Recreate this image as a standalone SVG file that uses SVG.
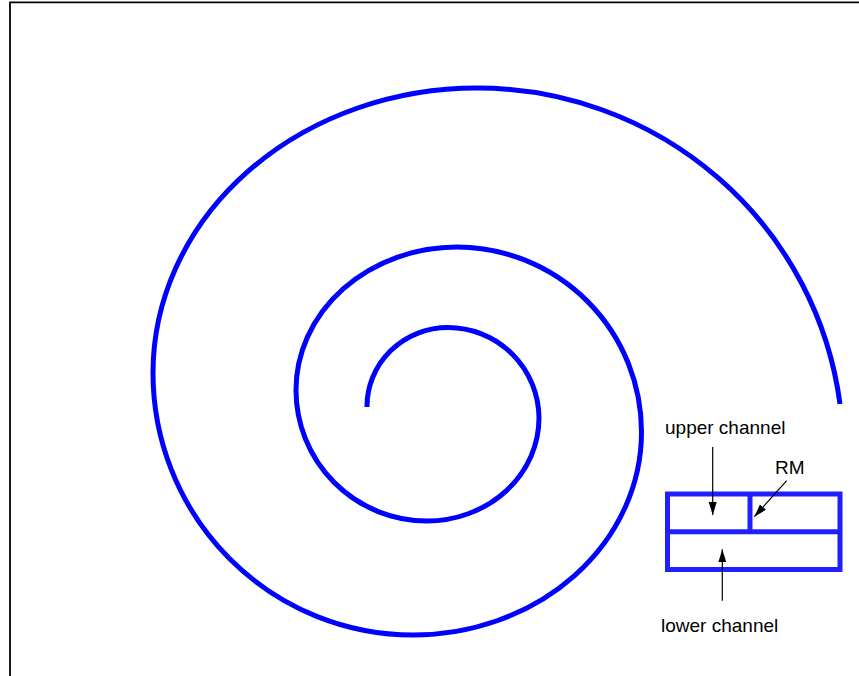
<svg xmlns="http://www.w3.org/2000/svg" width="859" height="676" viewBox="0 0 859 676">
  <style>
    .spiral { fill: none; stroke: #0000ff; stroke-width: 5; }
    .box { fill: none; stroke: #1f1fff; stroke-width: 5; }
    .lbl { font-family: "Liberation Sans", Arial, sans-serif; font-size: 19px; fill: #000; }
    .conn { stroke: #000; stroke-width: 1.2; fill: none; marker-end: url(#ah); }
  </style>
  <defs>
    <marker id="ah" markerUnits="userSpaceOnUse" markerWidth="14" markerHeight="9" refX="13" refY="4" orient="auto">
      <path d="M0,0 L13,4 L0,8 z" fill="#000"/>
    </marker>
  </defs>
  <rect width="859" height="676" fill="#fff"/>
  <path d="M10,676 L10,2.3 L859,2.3" fill="none" stroke="#000" stroke-width="1.8"/>

  <g id="spiral">
    <path class="spiral" d="M 367 407 A 81 79 0 0 1 448 327.5 A 91 91 0 0 1 539 418 A 112 103 0 0 1 427 521 A 131 131 0 0 1 296 390 A 161 143 0 0 1 457 247 A 185 185 0 0 1 641.5 432 A 228.5 203 0 0 1 413 635 A 260 262 0 0 1 153 373 A 324 285 0 0 1 477 88 A 366 363 0 0 1 840 404"/>
  </g>

  <g id="channel-box">
    <rect class="box" x="667.5" y="494" width="172.5" height="75.5"/>
    <line class="box" x1="667.5" y1="531.7" x2="840" y2="531.7"/>
    <line class="box" x1="750" y1="494" x2="750" y2="531.7" stroke-width="3"/>
  </g>

  <g id="label-upper">
    <text class="lbl" x="665" y="434">upper channel</text>
  </g>
  <g id="label-rm">
    <text class="lbl" x="775" y="474">RM</text>
  </g>
  <g id="label-lower">
    <text class="lbl" x="661" y="632">lower channel</text>
  </g>

  <g id="connectors">
    <line class="conn" x1="712.7" y1="447" x2="712.7" y2="515"/>
    <line class="conn" x1="786.7" y1="480.7" x2="754.3" y2="516.7"/>
    <line class="conn" x1="722.3" y1="600.7" x2="722.3" y2="549.3"/>
  </g>
</svg>
